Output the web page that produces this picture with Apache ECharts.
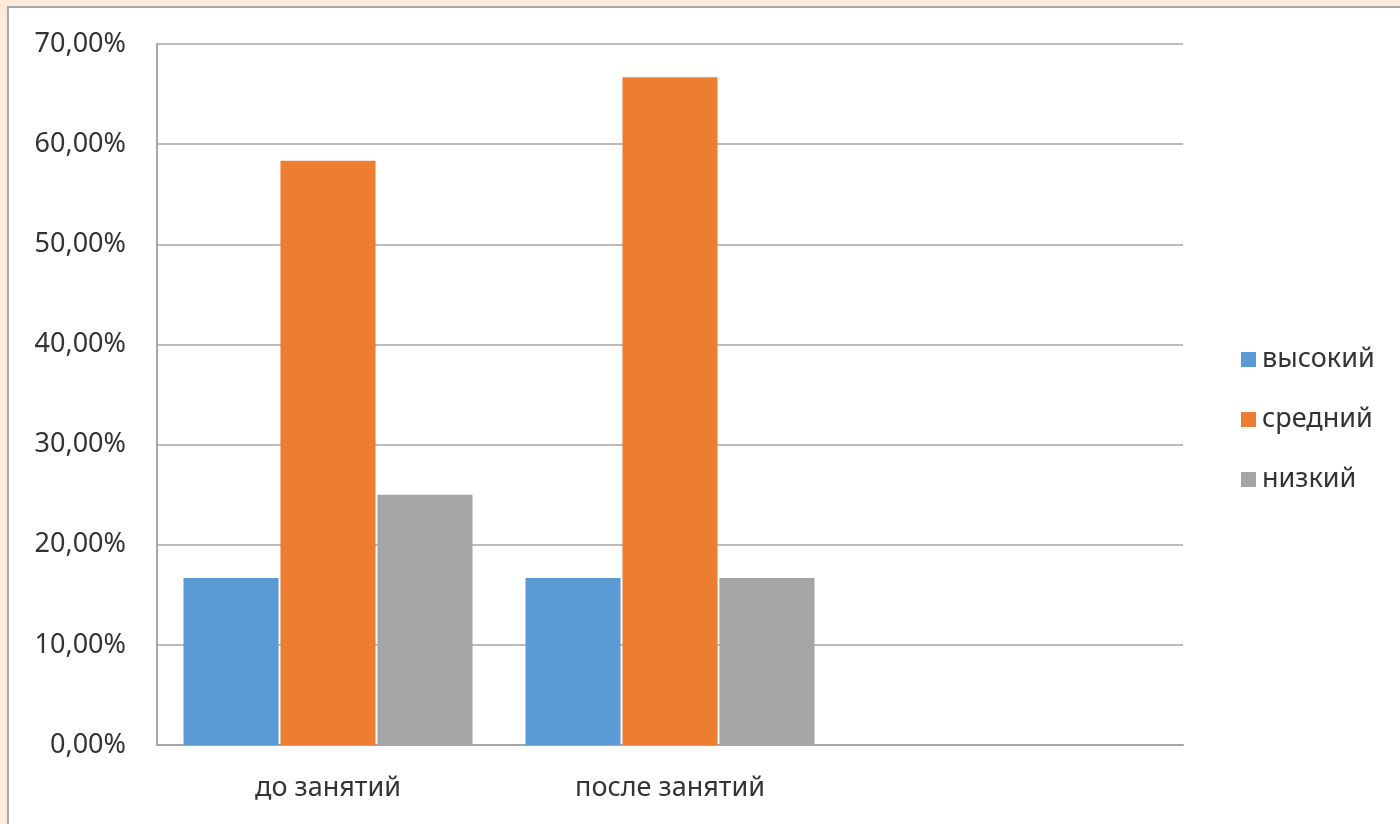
<!DOCTYPE html>
<html>
<head>
<meta charset="utf-8">
<script src="https://cdn.jsdelivr.net/npm/echarts@6/dist/echarts.min.js"></script>
<style>
html,body{margin:0;padding:0;background:#FDE9D9;}
#c{width:1400px;height:824px;}
</style>
</head>
<body>
<div id="c"></div>
<script>
var categories = ['до занятий', 'после занятий', ''];
var seriesNames = ['высокий', 'средний', 'низкий'];
var vysokiy = [16.67, 16.67, null];
var sredniy = [58.33, 66.67, null];
var nizkiy = [25.0, 16.67, null];
var yTicks = [0, 10, 20, 30, 40, 50, 60, 70];
var colors = ['#5B9BD5', '#ED7D31', '#A5A5A5'];

var chart = echarts.init(document.getElementById('c'));
var font = '"Noto Sans", "Open Sans", sans-serif';
chart.setOption({
  backgroundColor: '#FDE9D9',
  animation: false,
  graphic: [{
    type: 'rect', z: -10, silent: true,
    shape: {x: 8, y: 7, width: 1400, height: 830},
    style: {fill: '#FFFFFF', stroke: '#A6A6A6', lineWidth: 2}
  }],
  grid: {left: 157, right: 217, top: 44, bottom: 79},
  legend: {
    orient: 'vertical', left: 1236, top: 341,
    itemWidth: 15, itemHeight: 15, itemGap: 33,
    icon: 'rect',
    textStyle: {fontFamily: font, fontSize: 27, color: '#333333', lineHeight: 27, padding: [0, 0, 0, 1]},
    data: seriesNames
  },
  xAxis: {
    type: 'category', data: categories,
    axisLine: {lineStyle: {color: '#A6A6A6', width: 2}},
    axisTick: {show: false},
    axisLabel: {fontFamily: font, fontSize: 27, color: '#333333', margin: 30}
  },
  yAxis: {
    type: 'value', min: yTicks[0], max: yTicks[yTicks.length - 1], interval: 10,
    axisLine: {show: true, lineStyle: {color: '#A6A6A6', width: 2}},
    axisTick: {show: false},
    splitLine: {lineStyle: {color: '#A6A6A6', width: 1.5}},
    axisLabel: {
      fontFamily: font, fontSize: 27, color: '#333333', margin: 31,
      formatter: function (v) { return v.toFixed(2).replace('.', ',') + '%'; }
    }
  },
  series: [
    {name: seriesNames[0], type: 'bar', data: vysokiy, itemStyle: {color: colors[0]}, barGap: '2%', barCategoryGap: '15.5%'},
    {name: seriesNames[1], type: 'bar', data: sredniy, itemStyle: {color: colors[1]}, barGap: '2%', barCategoryGap: '15.5%'},
    {name: seriesNames[2], type: 'bar', data: nizkiy, itemStyle: {color: colors[2]}, barGap: '2%', barCategoryGap: '15.5%'}
  ]
});
</script>
</body>
</html>
